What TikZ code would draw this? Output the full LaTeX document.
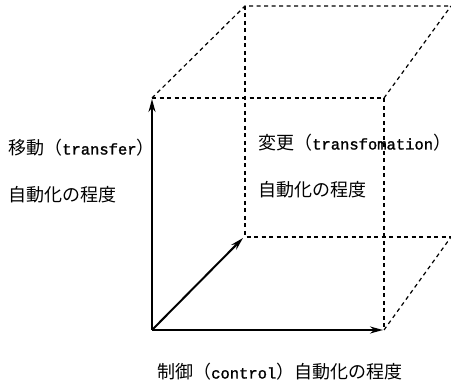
\documentclass[tikz,border=0pt]{standalone}
\usepackage{fontspec}
\setmainfont[BoldFont=Liberation Mono,BoldFeatures={FakeBold=1.4}]{Liberation Mono}
\newfontfamily\jp{Noto Sans CJK JP}
\usetikzlibrary{arrows.meta}
\tikzset{
  edge/.style={line width=1.2pt, dash pattern=on 4pt off 3.5pt},
  axis/.style={line width=2pt, -{Stealth[length=13pt,width=7pt]}},
  lbl/.style={anchor=base west, inner sep=0pt, font=\fontsize{15.5}{18}\selectfont\bfseries}
}
\newcommand{\jt}[1]{{\jp\mdseries\fontsize{18}{20}\selectfont #1}}
\begin{document}
\begin{tikzpicture}[x=1pt,y=-1pt]
\useasboundingbox (0,0) rectangle (451,385);
% cube corners
\coordinate (O) at (152,330);
\coordinate (FTL) at (152,98);
\coordinate (FTR) at (384,98);
\coordinate (FBR) at (384,330);
\coordinate (BBL) at (245,237);
\coordinate (BTL) at (245,6);
\coordinate (BTR) at (451,6);
\coordinate (BBR) at (451,237);
\coordinate (UpTip) at (152,99);
\coordinate (RtTip) at (383,330);
\coordinate (DgTip) at (243,238);
% dashed edges
\draw[edge] (FTL) -- (FTR) -- (FBR);
\draw[edge] (FTL) -- (BTL) -- (BTR);
\draw[edge] (FTR) -- (BTR);
\draw[edge] (BTL) -- (BBL) -- (BBR);
\draw[edge] (FBR) -- (BBR);
% axes
\draw[axis] (O) -- (UpTip);
\draw[axis] (O) -- (RtTip);
\draw[axis] (O) -- (DgTip);
% labels
\node[lbl] (t1) at (8,154.5) {\jt{移動（}transfer\jt{）}};
\node[lbl] (t2) at (8,201.5) {\jt{自動化の程度}};
\node[lbl] (t3) at (258,149.5) {\jt{変更（}transfomation\jt{）}};
\node[lbl] (t4) at (258,196.5) {\jt{自動化の程度}};
\node[lbl] (t5) at (157,378.5) {\jt{制御（}control\jt{）自動化の程度}};
\end{tikzpicture}
\end{document}
